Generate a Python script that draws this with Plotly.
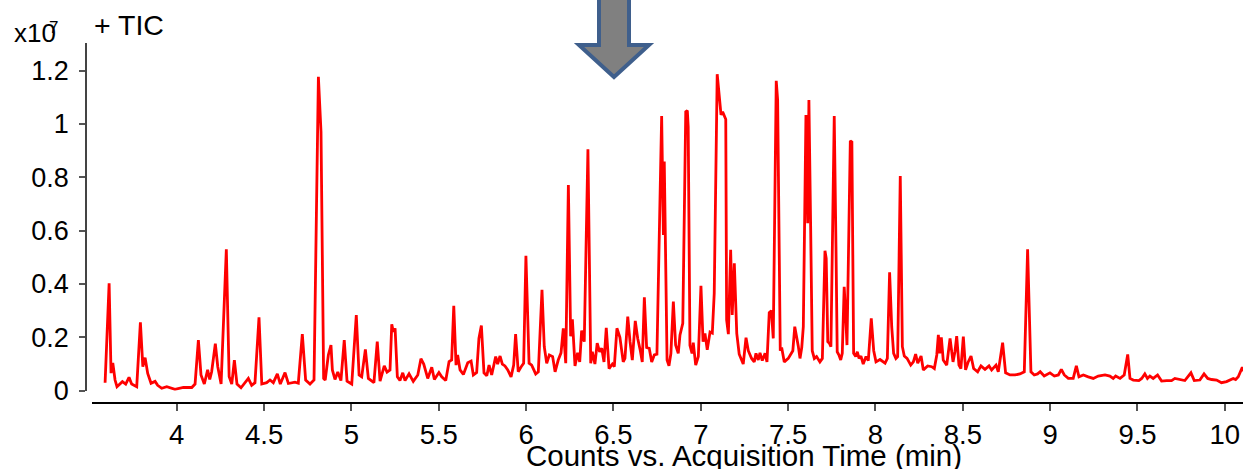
import plotly.graph_objects as go

W, H = 1250, 469

time_min = [
    3.590, 3.613, 3.624, 3.634, 3.647, 3.658, 3.689, 3.708, 3.727, 3.742, 3.771, 3.792, 3.806, 3.819, 3.834,
    3.853, 3.876, 3.891, 3.914, 3.943, 3.990, 4.038, 4.086, 4.105, 4.124, 4.139, 4.158, 4.177, 4.189, 4.200,
    4.221, 4.235, 4.254, 4.284, 4.300, 4.315, 4.330, 4.345, 4.368, 4.391, 4.410, 4.429, 4.448, 4.471, 4.487,
    4.515, 4.534, 4.553, 4.576, 4.593, 4.620, 4.639, 4.677, 4.696, 4.719, 4.738, 4.763, 4.786, 4.811, 4.826,
    4.841, 4.850, 4.868, 4.883, 4.891, 4.906, 4.922, 4.940, 4.959, 4.975, 5.002, 5.028, 5.044, 5.059, 5.080,
    5.097, 5.129, 5.148, 5.164, 5.188, 5.204, 5.221, 5.231, 5.240, 5.250, 5.263, 5.278, 5.294, 5.307, 5.330,
    5.354, 5.380, 5.398, 5.414, 5.437, 5.460, 5.475, 5.501, 5.517, 5.540, 5.559, 5.574, 5.586, 5.599, 5.608,
    5.622, 5.641, 5.666, 5.685, 5.698, 5.717, 5.730, 5.744, 5.759, 5.775, 5.788, 5.803, 5.826, 5.837, 5.851,
    5.864, 5.879, 5.895, 5.914, 5.929, 5.940, 5.955, 5.975, 5.986, 5.999, 6.017, 6.032, 6.055, 6.070, 6.091,
    6.104, 6.118, 6.133, 6.152, 6.166, 6.184, 6.200, 6.213, 6.227, 6.242, 6.255, 6.265, 6.280, 6.295, 6.307,
    6.318, 6.333, 6.354, 6.370, 6.379, 6.394, 6.407, 6.421, 6.433, 6.446, 6.459, 6.475, 6.494, 6.505, 6.520,
    6.537, 6.556, 6.566, 6.582, 6.595, 6.608, 6.625, 6.639, 6.654, 6.665, 6.677, 6.690, 6.705, 6.719, 6.734,
    6.749, 6.776, 6.786, 6.791, 6.807, 6.818, 6.829, 6.843, 6.856, 6.871, 6.881, 6.897, 6.914, 6.923, 6.928,
    6.938, 6.950, 6.957, 6.971, 6.986, 7.001, 7.013, 7.024, 7.037, 7.053, 7.066, 7.077, 7.094, 7.106, 7.116,
    7.125, 7.143, 7.148, 7.158, 7.171, 7.180, 7.192, 7.206, 7.220, 7.243, 7.259, 7.272, 7.291, 7.306, 7.316,
    7.329, 7.339, 7.352, 7.368, 7.379, 7.392, 7.404, 7.415, 7.432, 7.440, 7.455, 7.463, 7.478, 7.501, 7.515,
    7.527, 7.538, 7.549, 7.558, 7.568, 7.578, 7.587, 7.602, 7.612, 7.619, 7.629, 7.638, 7.650, 7.663, 7.682,
    7.696, 7.711, 7.718, 7.727, 7.736, 7.745, 7.764, 7.774, 7.781, 7.791, 7.801, 7.810, 7.821, 7.829, 7.837,
    7.856, 7.865, 7.875, 7.887, 7.896, 7.906, 7.917, 7.930, 7.946, 7.959, 7.976, 7.990, 8.003, 8.026, 8.055,
    8.068, 8.081, 8.093, 8.104, 8.117, 8.127, 8.142, 8.154, 8.165, 8.181, 8.202, 8.217, 8.230, 8.242, 8.261,
    8.274, 8.299, 8.322, 8.337, 8.351, 8.360, 8.368, 8.377, 8.388, 8.408, 8.427, 8.444, 8.455, 8.465, 8.478,
    8.489, 8.503, 8.516, 8.531, 8.547, 8.562, 8.585, 8.604, 8.627, 8.650, 8.665, 8.690, 8.703, 8.728, 8.745,
    8.770, 8.799, 8.827, 8.852, 8.871, 8.879, 8.890, 8.909, 8.928, 8.943, 8.966, 8.999, 9.024, 9.047, 9.064,
    9.081, 9.104, 9.132, 9.150, 9.165, 9.190, 9.218, 9.247, 9.275, 9.314, 9.342, 9.361, 9.375, 9.400, 9.424,
    9.444, 9.457, 9.476, 9.508, 9.524, 9.542, 9.557, 9.571, 9.590, 9.615, 9.638, 9.667, 9.695, 9.714, 9.743,
    9.771, 9.806, 9.825, 9.857, 9.881, 9.902, 9.924, 9.953, 9.981, 10.010, 10.048, 10.062, 10.077, 10.100, 10.111,
]

tic_x1e7 = [
    0.030, 0.403, 0.066, 0.104, 0.040, 0.015, 0.034, 0.025, 0.050, 0.025, 0.015, 0.256, 0.090, 0.124, 0.065,
    0.028, 0.035, 0.020, 0.009, 0.015, 0.005, 0.012, 0.012, 0.025, 0.190, 0.059, 0.025, 0.078, 0.042, 0.071,
    0.176, 0.090, 0.025, 0.530, 0.053, 0.025, 0.115, 0.025, 0.011, 0.030, 0.046, 0.020, 0.030, 0.275, 0.025,
    0.030, 0.040, 0.030, 0.063, 0.025, 0.068, 0.027, 0.032, 0.028, 0.212, 0.040, 0.025, 0.040, 1.177, 0.971,
    0.046, 0.040, 0.134, 0.171, 0.078, 0.042, 0.070, 0.038, 0.190, 0.036, 0.025, 0.284, 0.059, 0.052, 0.155,
    0.046, 0.030, 0.184, 0.036, 0.093, 0.070, 0.078, 0.249, 0.221, 0.234, 0.052, 0.038, 0.067, 0.038, 0.063,
    0.035, 0.059, 0.120, 0.100, 0.046, 0.088, 0.042, 0.068, 0.052, 0.038, 0.109, 0.115, 0.318, 0.096, 0.134,
    0.078, 0.061, 0.105, 0.111, 0.059, 0.068, 0.196, 0.244, 0.067, 0.056, 0.096, 0.059, 0.128, 0.100, 0.130,
    0.100, 0.093, 0.078, 0.052, 0.096, 0.212, 0.071, 0.093, 0.103, 0.506, 0.103, 0.096, 0.063, 0.071, 0.378,
    0.165, 0.103, 0.134, 0.128, 0.071, 0.115, 0.142, 0.234, 0.103, 0.771, 0.204, 0.268, 0.093, 0.142, 0.108,
    0.225, 0.184, 0.905, 0.103, 0.146, 0.100, 0.178, 0.146, 0.159, 0.108, 0.236, 0.083, 0.100, 0.090, 0.234,
    0.200, 0.108, 0.121, 0.278, 0.184, 0.115, 0.262, 0.196, 0.150, 0.108, 0.350, 0.162, 0.159, 0.108, 0.134,
    0.137, 1.030, 0.584, 0.859, 0.115, 0.093, 0.140, 0.334, 0.171, 0.140, 0.209, 0.253, 1.046, 1.050, 0.990,
    0.170, 0.140, 0.180, 0.096, 0.128, 0.393, 0.184, 0.215, 0.153, 0.220, 0.216, 0.365, 1.187, 1.115, 1.034,
    1.046, 1.018, 0.265, 0.212, 0.528, 0.284, 0.478, 0.215, 0.137, 0.100, 0.199, 0.150, 0.121, 0.108, 0.140,
    0.115, 0.142, 0.113, 0.140, 0.108, 0.293, 0.300, 0.196, 1.162, 1.090, 0.150, 0.162, 0.108, 0.121, 0.140,
    0.150, 0.240, 0.203, 0.168, 0.121, 0.162, 0.240, 1.034, 0.628, 1.090, 0.615, 0.150, 0.121, 0.128, 0.108,
    0.121, 0.525, 0.496, 0.184, 0.178, 0.165, 1.030, 0.540, 0.146, 0.134, 0.115, 0.140, 0.390, 0.290, 0.171,
    0.937, 0.933, 0.140, 0.128, 0.146, 0.121, 0.130, 0.100, 0.128, 0.113, 0.271, 0.150, 0.108, 0.117, 0.103,
    0.121, 0.444, 0.240, 0.140, 0.121, 0.128, 0.805, 0.165, 0.130, 0.121, 0.096, 0.108, 0.137, 0.103, 0.130,
    0.078, 0.093, 0.090, 0.083, 0.134, 0.209, 0.140, 0.200, 0.115, 0.096, 0.196, 0.108, 0.146, 0.205, 0.096,
    0.083, 0.203, 0.078, 0.108, 0.130, 0.083, 0.071, 0.093, 0.080, 0.093, 0.078, 0.096, 0.071, 0.180, 0.067,
    0.059, 0.059, 0.063, 0.071, 0.530, 0.340, 0.071, 0.059, 0.063, 0.071, 0.055, 0.067, 0.055, 0.059, 0.080,
    0.059, 0.046, 0.046, 0.093, 0.052, 0.059, 0.052, 0.046, 0.055, 0.059, 0.055, 0.046, 0.055, 0.046, 0.059,
    0.136, 0.046, 0.040, 0.038, 0.046, 0.063, 0.046, 0.055, 0.046, 0.059, 0.036, 0.038, 0.038, 0.046, 0.042,
    0.038, 0.067, 0.038, 0.040, 0.063, 0.046, 0.042, 0.040, 0.030, 0.034, 0.046, 0.042, 0.052, 0.088, 0.071,
]

x_tick_vals = [4, 4.5, 5, 5.5, 6, 6.5, 7, 7.5, 8, 8.5, 9, 9.5, 10]
x_tick_text = ["4", "4.5", "5", "5.5", "6", "6.5", "7", "7.5", "8", "8.5", "9", "9.5", "10"]
y_tick_vals = [0, 0.2, 0.4, 0.6, 0.8, 1.0, 1.2]
y_tick_text = ["0", "0.2", "0.4", "0.6", "0.8", "1", "1.2"]

FONT = "Liberation Sans, Arial, sans-serif"


def px(xp):
    return xp / W


def py(yp):
    return 1 - yp / H


fig = go.Figure()
fig.add_trace(go.Scatter(x=time_min, y=tic_x1e7, mode="lines",
                         line=dict(color="#ff0000", width=2.8), showlegend=False,
                         hoverinfo="skip"))

fig.update_layout(
    width=W, height=H,
    margin=dict(l=0, r=0, t=0, b=0),
    paper_bgcolor="white", plot_bgcolor="white",
    font=dict(family=FONT, color="black", size=27),
    xaxis=dict(domain=[px(92), px(1243)], range=[3.515, 10.104], anchor="free", position=py(402.7),
               showline=True, linecolor="black", linewidth=2, showgrid=False, zeroline=False,
               ticks="outside", ticklen=7, tickwidth=1.5, tickcolor="#555",
               tickvals=x_tick_vals, ticktext=x_tick_text, tickfont=dict(size=27.5), automargin=False),
    yaxis=dict(domain=[py(390.7), py(42.7)], range=[0, 1.305], anchor="free", position=px(86),
               showline=True, linecolor="#444", linewidth=1.5, showgrid=False, zeroline=False,
               ticks="outside", ticklen=6, tickwidth=1.5, tickcolor="#555", ticklabelstandoff=5,
               tickvals=y_tick_vals, ticktext=y_tick_text, tickfont=dict(size=27), automargin=False),
)

# Arrow marker
arrow_path = "M {} {} L {} {} L {} {} L {} {} L {} {} L {} {} L {} {} Z".format(
    px(599), py(-10), px(629), py(-10), px(629), py(45), px(649), py(45),
    px(614), py(77), px(579), py(45), px(599), py(45))
fig.add_shape(type="path", path=arrow_path, xref="paper", yref="paper",
              fillcolor="#808080", line=dict(color="#3f5f8c", width=4), layer="above")

fig.add_annotation(text="x10", x=px(12), y=py(33), xref="paper", yref="paper",
                   xanchor="left", yanchor="middle", showarrow=False, font=dict(size=26))
fig.add_annotation(text="7", x=px(53), y=py(28), xref="paper", yref="paper",
                   xanchor="center", yanchor="middle", showarrow=False, font=dict(size=17))
fig.add_annotation(text="+ TIC", x=px(92), y=py(25), xref="paper", yref="paper",
                   xanchor="left", yanchor="middle", showarrow=False, font=dict(size=28.5))
fig.add_annotation(text="Counts vs. Acquisition Time (min)", x=px(744), y=py(455), xref="paper", yref="paper",
                   xanchor="center", yanchor="middle", showarrow=False, font=dict(size=29.5))

fig.write_html("out.html", config={"displayModeBar": False},
               post_script="document.body.style.margin='0px';document.body.style.overflow='hidden';")
